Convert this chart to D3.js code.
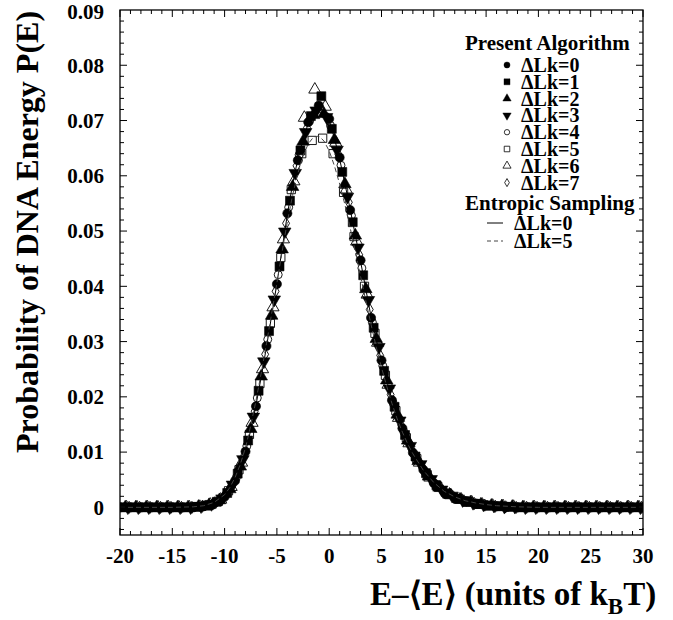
<!DOCTYPE html>
<html><head><meta charset="utf-8">
<script src="https://cdn.jsdelivr.net/npm/d3@7"></script>
<style>
body{margin:0;background:#fff}
text{font-family:"Liberation Serif","Times New Roman",serif;font-weight:bold;fill:#000}
</style>
</head><body><svg id="chart" width="673" height="620"></svg>
<script>
// ---------- data ----------
const xGrid = [-20,-19,-18,-17,-16,-15,-14,-13,-12,-11,-10,-9,-8,-7,-6,-5,-4,-3,-2,-1,0,1,2,3,4,5,6,7,8,9,10,11,12,13,14,15,16,17,18,19,20,21,22,23,24,25,26,27,28,29,30];
// bin offset of each series (ΔLk=0..7)
const xOffsets = [0,0.25,0.5,0.75,0.125,0.375,0.625,0.875];
const seriesNames = ["\u0394Lk=0","\u0394Lk=1","\u0394Lk=2","\u0394Lk=3","\u0394Lk=4","\u0394Lk=5","\u0394Lk=6","\u0394Lk=7"];
const markerTypes = ["circle","square","triangle","triangleDown","circle","square","triangle","diamond"];
const markerFilled = [true,true,true,true,false,false,false,false];

const pLk0 = [0,0,0,0,0,0,0,
  0,0.0002,0.0007,0.0019,0.0048,0.0101,0.0183,0.0292,0.0404,0.0532,0.0628,0.0697,0.0727,0.0703,0.0633,0.0538,0.0447,0.0343,0.0266,0.0194,0.0143,0.0099,0.0068,0.0044,0.0028,0.0018,0.0011,0.0007,0.0004,0.0002,0.0001,
  0,0,0,0,0,0,0,0,0,0,0,0,0];
const pLk1 = [0,0,0,0,0,0,0,
  0.0001,0.0003,0.0010,0.0026,0.0061,0.0121,0.0211,0.0319,0.0436,0.0555,0.0646,0.0708,0.0744,0.0685,0.0607,0.0516,0.0420,0.0325,0.0247,0.0182,0.0131,0.0092,0.0062,0.0040,0.0025,0.0016,0.0010,0.0006,0.0003,0.0002,0.0001,
  0,0,0,0,0,0,0,0,0,0,0,0,0];
const pLk2 = [0,0,0,0,0,0,0,
  0.0001,0.0004,0.0013,0.0033,0.0074,0.0142,0.0237,0.0347,0.0467,0.0580,0.0662,0.0710,0.0712,0.0665,0.0585,0.0492,0.0395,0.0305,0.0230,0.0168,0.0121,0.0084,0.0056,0.0036,0.0023,0.0014,0.0009,0.0005,0.0003,0.0002,0.0001,
  0,0,0,0,0,0,0,0,0,0,0,0,0];
const pLk3 = [0,0,0,0,0,0,0,
  0.0002,0.0006,0.0016,0.0041,0.0087,0.0164,0.0264,0.0376,0.0499,0.0605,0.0679,0.0718,0.0706,0.0647,0.0562,0.0470,0.0375,0.0290,0.0215,0.0157,0.0111,0.0078,0.0051,0.0032,0.0021,0.0013,0.0008,0.0005,0.0003,0.0001,0.0001,
  0,0,0,0,0,0,0,0,0,0,0,0,0];
const pLk4 = [0,0,0,0,0,0,0,
  0,0.0003,0.0009,0.0023,0.0054,0.0111,0.0198,0.0304,0.0421,0.0543,0.0638,0.0699,0.0722,0.0691,0.0619,0.0528,0.0433,0.0335,0.0256,0.0188,0.0137,0.0096,0.0065,0.0042,0.0026,0.0017,0.0010,0.0006,0.0004,0.0002,0.0001,
  0,0,0,0,0,0,0,0,0,0,0,0,0];
const pLk5 = [0,0,0,0,0,0,0,
  0.0001,0.0004,0.0011,0.0030,0.0068,0.0132,0.0224,0.0333,0.0452,0.0575,0.0640,0.0664,0.0668,0.0640,0.0570,0.0490,0.0400,0.0315,0.0239,0.0175,0.0126,0.0088,0.0059,0.0038,0.0024,0.0015,0.0010,0.0006,0.0003,0.0002,0.0001,
  0,0,0,0,0,0,0,0,0,0,0,0,0];
const pLk6 = [0,0,0,0,0,0,0,
  0.0001,0.0005,0.0014,0.0037,0.0081,0.0153,0.0250,0.0362,0.0485,0.0590,0.0705,0.0756,0.0725,0.0660,0.0575,0.0481,0.0385,0.0298,0.0222,0.0162,0.0116,0.0081,0.0054,0.0035,0.0022,0.0014,0.0009,0.0005,0.0003,0.0002,0.0001,
  0,0,0,0,0,0,0,0,0,0,0,0,0];
const pLk7 = [0,0,0,0,0,0,0,
  0.0002,0.0006,0.0017,0.0044,0.0094,0.0174,0.0277,0.0391,0.0514,0.0618,0.0687,0.0721,0.0703,0.0639,0.0552,0.0457,0.0358,0.0275,0.0204,0.0149,0.0105,0.0072,0.0047,0.0030,0.0019,0.0012,0.0007,0.0004,0.0002,0.0001,0,
  0,0,0,0,0,0,0,0,0,0,0,0,0];
const presentSeries = [pLk0,pLk1,pLk2,pLk3,pLk4,pLk5,pLk6,pLk7];

// Entropic sampling curves
const xLine = [-20,-15,-13,-12,-11,-10,-9.5,-9,-8.5,-8,-7.5,-7,-6.5,-6,-5.5,-5,-4.5,-4,-3.5,-3,-2.5,-2,-1.5,-1,-0.5,0,0.5,1,1.5,2,2.5,3,3.5,4,4.5,5,5.5,6,6.5,7,7.5,8,9,10,11,12,13,14,15,16,18,20,25,30];
const entLk0 = [0,0,0,0.0002,0.0007,0.0019,0.0031,0.0048,0.0071,0.0100,0.0140,0.0185,0.0236,0.0290,0.0347,0.0405,0.0468,0.0530,0.0585,0.0630,0.0666,0.0695,0.0714,0.0722,0.0718,0.0700,0.0668,0.0630,0.0586,0.0540,0.0492,0.0445,0.0395,0.0345,0.0303,0.0265,0.0229,0.0195,0.0167,0.0142,0.0120,0.0100,0.0068,0.0044,0.0028,0.0018,0.0011,0.0007,0.0004,0.0002,0,0,0,0];
const entLk5 = [0,0,0.0001,0.0003,0.0009,0.0023,0.0036,0.0054,0.0078,0.0108,0.0148,0.0193,0.0243,0.0296,0.0351,0.0406,0.0463,0.0517,0.0565,0.0604,0.0636,0.0658,0.0670,0.0672,0.0663,0.0645,0.0618,0.0585,0.0548,0.0506,0.0463,0.0418,0.0374,0.0331,0.0290,0.0253,0.0219,0.0188,0.0160,0.0136,0.0115,0.0097,0.0067,0.0045,0.0029,0.0019,0.0012,0.0008,0.0005,0.0003,0.0001,0,0,0];
const entNames = ["\u0394Lk=0","\u0394Lk=5"];

const xMajorTicks = [-20,-15,-10,-5,0,5,10,15,20,25,30];
const xTickLabels = ["-20","-15","-10","-5","0","5","10","15","20","25","30"];
const yMajorTicks = [0,0.01,0.02,0.03,0.04,0.05,0.06,0.07,0.08,0.09];
const yTickLabels = ["0","0.01","0.02","0.03","0.04","0.05","0.06","0.07","0.08","0.09"];

// ---------- drawing ----------
const svg = d3.select("#chart");
const L = 120, R = 643, T = 10, B = 535;
const x = d3.scaleLinear().domain([-20,30]).range([L,R]);
const y = d3.scaleLinear().domain([-0.005,0.09]).range([B,T]);

svg.append("defs").append("clipPath").attr("id","clip")
  .append("rect").attr("x",L).attr("y",T).attr("width",R-L).attr("height",B-T);

function symPath(type, area){
  if(type==="circle") return d3.symbol(d3.symbolCircle, area)();
  if(type==="square") return d3.symbol(d3.symbolSquare, area)();
  if(type==="triangle" || type==="triangleDown") return d3.symbol(d3.symbolTriangle, area)();
  if(type==="diamond") return d3.symbol(d3.symbolDiamond, area)();
}
const areas = {circle:66, square:80, triangle:68, triangleDown:68, diamond:40};
const openAreas = {circle:50, square:68, triangle:64, diamond:42};

const plot = svg.append("g").attr("clip-path","url(#clip)");

// open markers first, filled markers on top
const drawOrder = [4,5,6,7,0,1,2,3];
drawOrder.forEach(k => {
  const vals = presentSeries[k];
  const type = markerTypes[k];
  const filled = markerFilled[k];
  const area = filled ? areas[type] : openAreas[type];
  const pts = vals.map((v,i) => [xGrid[i] + xOffsets[k], v]);
  plot.append("g").selectAll("path").data(pts).join("path")
    .attr("d", symPath(type, area))
    .attr("transform", d => `translate(${x(d[0])},${y(d[1])})` + (type==="triangleDown" ? " rotate(180)" : ""))
    .attr("fill", filled ? "#000" : "none")
    .attr("stroke", "#000")
    .attr("stroke-width", filled ? 0.6 : 0.9);
});

const line = d3.line().x(d => x(d[0])).y(d => y(d[1]));
plot.append("path").datum(xLine.map((v,i)=>[v,entLk0[i]]))
  .attr("d", line).attr("fill","none").attr("stroke","#000").attr("stroke-width",1);
plot.append("path").datum(xLine.map((v,i)=>[v,entLk5[i]]))
  .attr("d", line).attr("fill","none").attr("stroke","#444").attr("stroke-width",1).attr("stroke-dasharray","5,3");

// frame
svg.append("rect").attr("x",L).attr("y",T).attr("width",R-L).attr("height",B-T)
  .attr("fill","none").attr("stroke","#000").attr("stroke-width",1.3);

// ticks
const ax = svg.append("g").attr("stroke","#000").attr("stroke-width",1);
const xMinor = d3.range(-20,31,1);
xMinor.forEach(v => {
  const len = (v % 5 === 0) ? 7 : 4;
  ax.append("line").attr("x1",x(v)).attr("x2",x(v)).attr("y1",B).attr("y2",B-len);
  ax.append("line").attr("x1",x(v)).attr("x2",x(v)).attr("y1",T).attr("y2",T+len);
});
const yMinor = d3.range(-4,90,2).map(v => v/1000);
yMinor.forEach(v => {
  const major = Math.abs(Math.round(v*1000) % 10) === 0;
  const len = major ? 7 : 4;
  ax.append("line").attr("x1",L).attr("x2",L+len).attr("y1",y(v)).attr("y2",y(v));
  ax.append("line").attr("x1",R).attr("x2",R-len).attr("y1",y(v)).attr("y2",y(v));
});

// tick labels
svg.append("g").selectAll("text").data(xMajorTicks).join("text")
  .attr("x", d => x(d)).attr("y", 563).attr("text-anchor","middle")
  .attr("font-size", 21).text((d,i) => xTickLabels[i]);
svg.append("g").selectAll("text").data(yMajorTicks).join("text")
  .attr("x", 104).attr("y", d => y(d) + (d === 0.09 ? 2 : 0)).attr("dy","0.35em").attr("text-anchor","end")
  .attr("font-size", 21).text((d,i) => yTickLabels[i]);

// axis titles
svg.append("text").attr("transform","translate(38,453) rotate(-90)")
  .attr("text-anchor","start").attr("font-size",32)
  .text("Probability of DNA Energy P(E)");
const xt = svg.append("text").attr("x",370).attr("y",605).attr("font-size",33);
xt.append("tspan").text("E\u2013\u27E8E\u27E9 (units of k");
xt.append("tspan").attr("font-size",23).attr("dy",9).text("B");
xt.append("tspan").attr("dy",-9).text("T)");

// legend
const lg = svg.append("g");
lg.append("text").attr("x",465).attr("y",50).attr("font-size",21).text("Present Algorithm");
seriesNames.forEach((name,k) => {
  const cy = 65 + 16.8*k;
  const type = markerTypes[k];
  const filled = markerFilled[k];
  lg.append("path").attr("d", symPath(type, filled ? areas[type]*0.45 : openAreas[type]*0.45))
    .attr("transform", `translate(507,${cy})` + (type==="triangleDown" ? " rotate(180)" : ""))
    .attr("fill", filled ? "#000" : "none").attr("stroke","#000").attr("stroke-width", filled?0.4:0.8);
  lg.append("text").attr("x",521).attr("y",cy+7).attr("font-size",20).text(name);
});
lg.append("text").attr("x",465).attr("y",210).attr("font-size",21).text("Entropic Sampling");
entNames.forEach((name,k) => {
  const cy = 223 + 18*k;
  lg.append("line").attr("x1",487).attr("x2",503).attr("y1",cy).attr("y2",cy)
    .attr("stroke", k===0 ? "#000" : "#444").attr("stroke-width",1)
    .attr("stroke-dasharray", k===0 ? null : "4,3");
  lg.append("text").attr("x",514).attr("y",cy+7).attr("font-size",20).text(name);
});
</script>
</body></html>
